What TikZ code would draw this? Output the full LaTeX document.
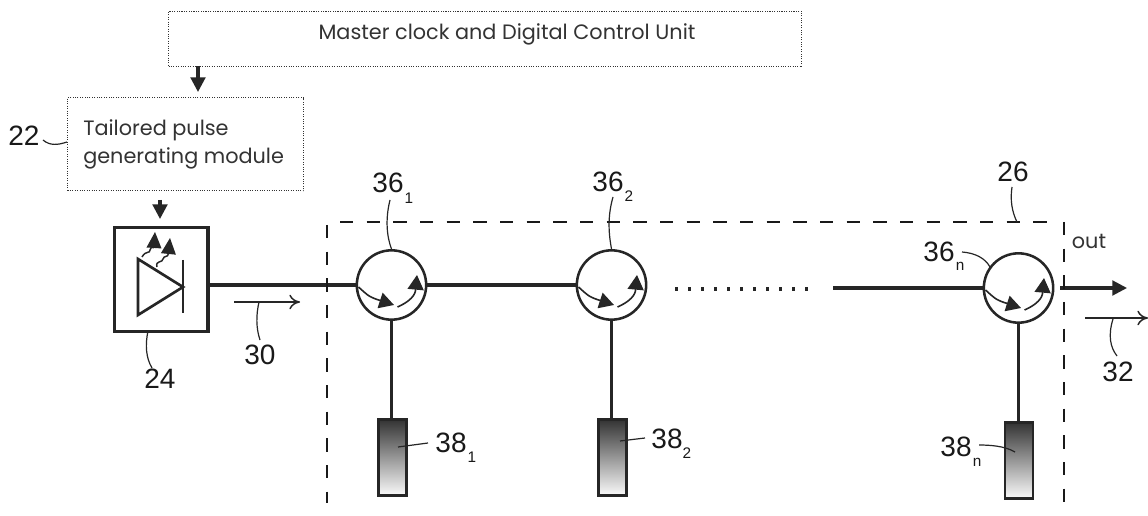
\documentclass[tikz,border=0pt]{standalone}
\usepackage{fontspec}
\setmainfont{Liberation Sans}
\newfontfamily\avantfont{Poppins}
\usetikzlibrary{arrows.meta,shadings,calc}
\tikzset{
  px/.style={x=0.75pt,y=-0.75pt},
  ctrlbox/.style={draw=black!80,densely dotted,line width=0.8pt,inner sep=0,anchor=north west},
  boxtext/.style={font=\avantfont\fontsize{15.6}{21}\selectfont,text=black!80,inner sep=0,align=left},
  refnum/.style={font=\fontsize{21}{22}\selectfont,inner sep=0,text=black!90},
  subnum/.style={font=\fontsize{11.5}{12}\selectfont,inner sep=0,text=black!90},
  fiber/.style={draw=black!85,line width=2.3pt},
  leader/.style={draw=black!85,line width=0.9pt},
  circulator/.style={circle,draw=black!85,line width=1.9pt,minimum size=52pt,inner sep=0},
  grating/.style={draw=black!85,line width=2pt,minimum width=21pt,minimum height=57pt,inner sep=0,top color=black!80,bottom color=black!2},
  modbox/.style={draw=black!85,line width=2.6pt,minimum width=70pt,minimum height=78pt,inner sep=0},
  bigtip/.style={-{Triangle[length=11pt,width=11pt]}},
  midtip/.style={-{Triangle[length=11pt,width=12pt]}},
  lasertip/.style={-{Triangle[length=12pt,width=11pt]}},
  opentip/.style={-{To[length=8pt,width=11pt]}},
  dashbox/.style={draw=black!90,line width=1.3pt,dash pattern=on 10pt off 10pt},
}
\begin{document}
\begin{tikzpicture}[px]
\useasboundingbox (0,0) rectangle (1148,516);
\fill[white] (0,0) rectangle (1148,516);

% top boxes
\node[ctrlbox,minimum width=475pt,minimum height=41.5pt] (master) at (168,11) {};
\node[boxtext] (mastertext) at (507,34) {Master clock and Digital Control Unit};
\node[ctrlbox,minimum width=177pt,minimum height=70pt] (tailored) at (67,97) {};
\node[boxtext,anchor=west] (tailoredtext) at (83,144) {Tailored pulse\\generating module};
\draw[fiber,bigtip] (198,66) -- (198,92);
\draw[fiber,bigtip] (160,200) -- (160,219);

% laser module
\node[modbox,anchor=north west] (module) at (113,226) {};
\coordinate (tritl) at (138,259);
\coordinate (tribl) at (138,315);
\coordinate (triapex) at (183,287);
\draw[black!85,line width=2pt] (tritl) -- (triapex) -- (tribl) -- cycle;
\draw[black!85,line width=2.2pt] (183,260) -- (183,313);
\draw[black!85,line width=1.1pt,lasertip] (142,257) .. controls (146,250) and (150,254) .. (150,250) .. controls (151,246) and (154,248) .. (155,232);
\draw[black!85,line width=1.1pt,lasertip] (157,267) .. controls (155,260) and (163,263) .. (163,259) .. controls (164,255) and (168,258) .. (170,238);

% circulators
\node[circulator] (c1) at (391.5,285) {};
\node[circulator] (c2) at (611.5,285) {};
\node[circulator] (c3) at (1018.5,288) {};
\foreach \n in {c1,c2,c3}{
  \draw[black!85,line width=1.2pt,midtip] ($(\n)+(-33,2)$) .. controls ($(\n)+(-22,12)$) .. ($(\n)+(2.5,20)$);
  \draw[black!85,line width=1.2pt,midtip] ($(\n)+(6,22)$) .. controls ($(\n)+(24,14)$) and ($(\n)+(24,6)$) .. ($(\n)+(25.5,-10)$);
}

% fibers
\draw[fiber] (module.east |- c1.west) -- (c1.west);
\draw[fiber] (c1.east) -- (c2.west);
\coordinate (dotsl) at (675,289);
\coordinate (dotsr) at (808,289);
\draw[fiber,dash pattern=on 2pt off 7.75pt] (dotsl) -- (dotsr);
\coordinate (fiberin) at (833,288);
\draw[fiber] (fiberin) -- (c3.west);
\coordinate (outstart) at (1060,288);
\coordinate (outend) at (1127,288);
\draw[fiber,bigtip] (outstart) -- (outend);

% gratings
\node[grating,anchor=north] (g1) at (392.5,418) {};
\node[grating,anchor=north] (g2) at (612.5,418) {};
\node[grating,anchor=north] (g3) at (1019,421) {};
\draw[fiber] (c1.south) -- (c1.south |- g1.north);
\draw[fiber] (c2.south) -- (c2.south |- g2.north);
\draw[fiber] (c3.south) -- (c3.south |- g3.north);

% dashed box 26
\coordinate (dtl) at (340,222);
\coordinate (dtr) at (1050,222);
\draw[dashbox] (dtl) -- (dtr);
\coordinate (dlt) at (327,225);
\coordinate (dlb) at (327,503);
\draw[dashbox] (dlt) -- (dlb);
\coordinate (drt) at (1064,222);
\coordinate (drb) at (1064,503);
\draw[dashbox] (drt) -- (drb);

% flow arrows
\coordinate (a30s) at (234,302);
\coordinate (a30e) at (300,302);
\draw[leader,line width=1.1pt,opentip] (a30s) -- (a30e);
\coordinate (a32s) at (1085,318);
\coordinate (a32e) at (1148,318);
\draw[leader,line width=1.1pt,opentip] (a32s) -- (a32e);

% labels
\node[refnum] (l22) at (24,136) {22};
\draw[leader] (43,140) .. controls (50,146) and (58,145) .. (tailored.west |- 0,142);
\node[refnum] (l24) at (160,379) {24};
\coordinate (l24s) at (148,331);
\coordinate (l24e) at (152,368);
\draw[leader] (l24s) .. controls (145,345) and (146,358) .. (l24e);
\node[refnum] (l30) at (260,355) {30};
\coordinate (l30s) at (259,302);
\coordinate (l30e) at (260,340);
\draw[leader] (l30s) .. controls (256,315) and (256,328) .. (l30e);
\node[refnum] (l361) at (388,183) {36};
\node[subnum] (s361) at (409,198) {1};
\draw[leader] (390,200) .. controls (385,220) and (387,237) .. (c1.north);
\node[refnum] (l362) at (608,182) {36};
\node[subnum] (s362) at (629,196) {2};
\draw[leader] (613,197) .. controls (607,218) and (609,235) .. (c2.north);
\node[refnum] (l26) at (1013,172) {26};
\draw[leader] (1012,187) .. controls (1010,200) and (1012,212) .. (1017,222);
\node[refnum] (l36n) at (939,252) {36};
\node[subnum] (s36n) at (960,266) {n};
\draw[leader] (962,252) .. controls (975,253) and (985,258) .. (990,267);
\node[boxtext] (lout) at (1089,241) {out};
\node[refnum] (l32) at (1118,372) {32};
\draw[leader] (1113,319) .. controls (1108,335) and (1110,347) .. (1117,356);
\node[refnum] (l381) at (451,443) {38};
\node[subnum] (s381) at (472,457) {1};
\draw[leader] (428,443) -- (398,447);
\node[refnum] (l382) at (667,439) {38};
\node[subnum] (s382) at (687,453) {2};
\draw[leader] (645,438) -- (620,441);
\node[refnum] (l38n) at (956,447) {38};
\node[subnum] (s38n) at (977,462) {n};
\draw[leader] (979,445) .. controls (990,445) and (1005,446) .. (1015,452);
\end{tikzpicture}
\end{document}
